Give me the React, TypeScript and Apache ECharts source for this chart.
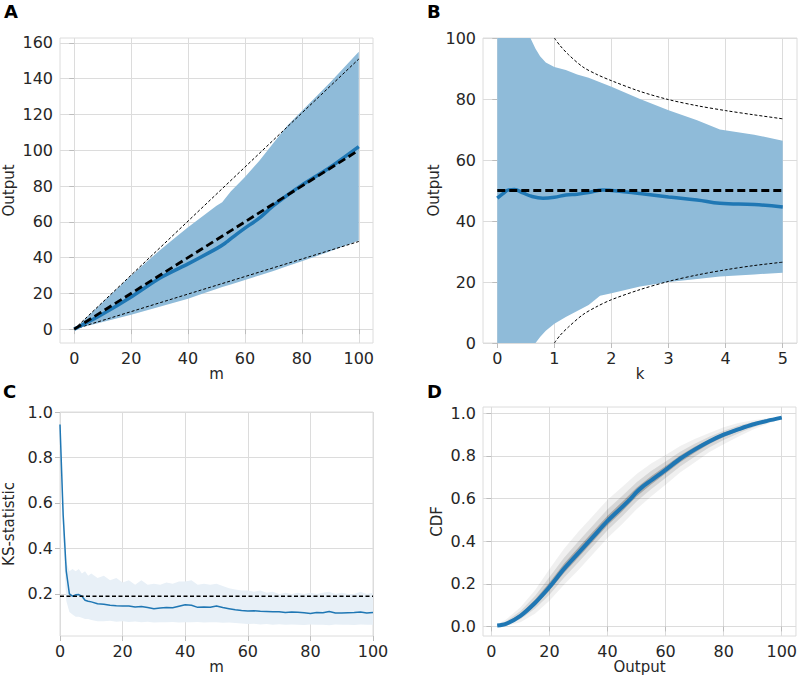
import React, { useEffect, useRef } from "react";
import * as echarts from "echarts";

// ---------- Panel A ----------
const A_REF_M = [0, 100];
const A_REF_UPPER = [0, 151];
const A_REF_LOWER = [0, 49];
const A_REF_MID = [0, 100];
const A_BAND_M = [0, 10, 20, 30, 35, 40, 45, 50, 52, 55, 60, 65, 70, 75, 80, 90, 100];
const A_BAND_HI = [0, 15, 30, 44, 50.5, 57, 63, 69, 71, 77, 85, 94, 104, 114, 122, 138, 155];
const A_BAND_LO = [0, 4, 8, 12.5, 14.7, 17, 19.8, 22.5, 23.5, 25, 27.5, 30, 32.5, 35.3, 38, 43.5, 49.5];
const A_MEAN_M = [0, 10, 20, 30, 40, 50, 53, 57, 60, 65, 70, 75, 80, 90, 100];
const A_MEAN = [0, 8.5, 18, 28.5, 36.5, 45, 48, 53, 56.5, 62, 69, 75, 80.5, 90.5, 102];

// ---------- Panel B ----------
const B_BAND_K = [0, 0.5, 0.58, 0.67, 0.75, 0.85, 1.0, 1.2, 1.4, 1.6, 1.8, 2.0, 2.5, 3.0, 3.5, 3.9, 4.5, 5.0];
const B_BAND_HI = [100, 100, 100, 96.5, 94, 92, 90.5, 89.5, 88, 87, 85.5, 84, 80, 76.3, 73, 70, 68.3, 66.3];
const B_BAND_LO = [0, 0, 0, 0, 2, 4, 6.3, 8.5, 10.5, 12.5, 15.5, 16.3, 18.5, 20, 21, 21.8, 22.5, 23];
const B_MEAN_K = [0, 0.1, 0.2, 0.3, 0.45, 0.6, 0.8, 1.0, 1.2, 1.4, 1.6, 1.85, 2.0, 2.5, 3.0, 3.5, 3.9, 4.5, 5.0];
const B_MEAN = [47.5, 49, 50.2, 50.3, 49.2, 48.1, 47.5, 47.8, 48.5, 48.8, 49.3, 50.2, 50, 49, 47.9, 46.9, 45.8, 45.4, 44.6];
const B_REF_K = [1, 1.1, 1.25, 1.5, 1.75, 2, 2.5, 3, 3.5, 4, 4.5, 5];
const B_REF_UPPER = [100, 97.5, 94.5, 90.5, 88, 86, 82.5, 79.8, 77.8, 76.2, 74.8, 73.5];
const B_REF_LOWER = [0, 2.5, 5.3, 9.3, 12, 14.2, 17.5, 20.2, 22.3, 24, 25.4, 26.5];
const B_TARGET_K = [0, 5];
const B_TARGET = [50, 50];

// ---------- Panel C ----------
const C_M = [0, 1, 2, 3, 4, 5, 6, 7, 8, 9, 10, 12, 14, 16, 18, 20, 22, 24, 26, 28, 30, 32, 34, 36, 38, 40, 42, 44, 46, 48, 50, 52, 54, 56, 58, 60, 62, 64, 66, 68, 70, 72, 74, 76, 78, 80, 82, 84, 86, 88, 90, 92, 94, 96, 98, 100];
const C_KS = [0.945, 0.55, 0.3, 0.2, 0.19, 0.196, 0.197, 0.19, 0.172, 0.168, 0.165, 0.157, 0.155, 0.15, 0.148, 0.147, 0.147, 0.143, 0.145, 0.14, 0.135, 0.138, 0.14, 0.139, 0.146, 0.152, 0.15, 0.141, 0.142, 0.141, 0.147, 0.14, 0.135, 0.13, 0.127, 0.125, 0.126, 0.124, 0.123, 0.122, 0.122, 0.118, 0.12, 0.119, 0.117, 0.114, 0.118, 0.117, 0.123, 0.116, 0.116, 0.117, 0.118, 0.121, 0.116, 0.118];
const C_HI = [0.95, 0.62, 0.34, 0.3, 0.31, 0.3, 0.31, 0.29, 0.3, 0.28, 0.29, 0.27, 0.28, 0.26, 0.27, 0.25, 0.26, 0.24, 0.26, 0.24, 0.245, 0.24, 0.25, 0.245, 0.255, 0.255, 0.26, 0.24, 0.245, 0.24, 0.245, 0.235, 0.225, 0.22, 0.215, 0.215, 0.21, 0.215, 0.205, 0.21, 0.2, 0.205, 0.2, 0.205, 0.2, 0.205, 0.2, 0.205, 0.21, 0.2, 0.205, 0.2, 0.2, 0.21, 0.2, 0.205];
const C_LO = [0.94, 0.45, 0.17, 0.12, 0.11, 0.1, 0.1, 0.095, 0.09, 0.09, 0.085, 0.08, 0.08, 0.082, 0.078, 0.08, 0.077, 0.079, 0.076, 0.078, 0.074, 0.076, 0.075, 0.077, 0.074, 0.076, 0.075, 0.077, 0.074, 0.076, 0.075, 0.073, 0.074, 0.072, 0.07, 0.068, 0.069, 0.066, 0.068, 0.065, 0.067, 0.064, 0.066, 0.065, 0.063, 0.066, 0.064, 0.065, 0.062, 0.066, 0.064, 0.065, 0.063, 0.066, 0.064, 0.065];
const C_THRESH_M = [0, 100];
const C_THRESH = [0.19, 0.19];

// ---------- Panel D ----------
const D_X = [2, 5, 10, 15, 20, 25, 30, 35, 40, 45, 50, 55, 60, 65, 70, 75, 80, 85, 90, 95, 100];
const D_OUTER_HI = [0.01, 0.032, 0.09, 0.17, 0.27, 0.365, 0.445, 0.52, 0.595, 0.655, 0.715, 0.765, 0.805, 0.847, 0.88, 0.908, 0.935, 0.955, 0.968, 0.977, 0.985];
const D_OUTER_LO = [0, 0.002, 0.02, 0.06, 0.12, 0.195, 0.265, 0.34, 0.415, 0.48, 0.55, 0.61, 0.665, 0.722, 0.77, 0.818, 0.855, 0.89, 0.923, 0.95, 0.975];
const D_MID_HI = [0.007, 0.023, 0.072, 0.143, 0.232, 0.322, 0.4, 0.475, 0.55, 0.612, 0.677, 0.729, 0.774, 0.82, 0.858, 0.89, 0.919, 0.942, 0.959, 0.972, 0.983];
const D_MID_LO = [0.002, 0.007, 0.034, 0.083, 0.149, 0.229, 0.301, 0.376, 0.451, 0.516, 0.586, 0.644, 0.697, 0.751, 0.797, 0.84, 0.875, 0.906, 0.934, 0.957, 0.977];
const D_IN_HI = [0.0055, 0.017, 0.06, 0.125, 0.206, 0.294, 0.37, 0.445, 0.52, 0.584, 0.651, 0.705, 0.753, 0.802, 0.843, 0.878, 0.909, 0.933, 0.953, 0.968, 0.981];
const D_IN_LO = [0.003, 0.0095, 0.0425, 0.0975, 0.169, 0.251, 0.325, 0.4, 0.475, 0.54, 0.61, 0.666, 0.718, 0.771, 0.815, 0.856, 0.889, 0.916, 0.942, 0.961, 0.979];
const D_CDF_X = [2, 5, 10, 15, 20, 25, 30, 35, 40, 45, 48, 50, 52, 55, 60, 65, 70, 75, 80, 85, 90, 95, 100];
const D_CDF = [0.004, 0.012, 0.05, 0.11, 0.185, 0.27, 0.345, 0.42, 0.495, 0.56, 0.6, 0.63, 0.655, 0.685, 0.735, 0.787, 0.83, 0.868, 0.9, 0.925, 0.948, 0.965, 0.98];

// ---------- tick labels ----------
const A_X_TICKS = [0, 20, 40, 60, 80, 100];
const A_Y_TICKS = [0, 20, 40, 60, 80, 100, 120, 140, 160];
const B_X_TICKS = [0, 1, 2, 3, 4, 5];
const B_Y_TICKS = [0, 20, 40, 60, 80, 100];
const C_X_TICKS = [0, 20, 40, 60, 80, 100];
const C_Y_TICKS = [0.2, 0.4, 0.6, 0.8, 1.0];
const D_X_TICKS = [0, 20, 40, 60, 80, 100];
const D_Y_TICKS = [0, 0.2, 0.4, 0.6, 0.8, 1.0];

const FONT = "DejaVu Sans";
const TEXT = "#262626";
const GRIDC = "#dcdcdc";
const TICKC = "#bdbdbd";
const BLUE = "#1f77b4";

const pairs = (xs: number[], ys: number[]) => xs.map((x, i) => [x, ys[i]]);

function band(idx: number, xs: number[], lo: number[], hi: number[], color: string, z: number) {
  return {
    type: "custom",
    xAxisIndex: idx,
    yAxisIndex: idx,
    z,
    silent: true,
    clip: true,
    data: [[xs[0], lo[0]]],
    renderItem: (_p: any, api: any) => {
      const pts: number[][] = [];
      for (let i = 0; i < xs.length; i++) pts.push(api.coord([xs[i], hi[i]]));
      for (let i = xs.length - 1; i >= 0; i--) pts.push(api.coord([xs[i], lo[i]]));
      return { type: "polygon", shape: { points: pts }, style: { fill: color }, silent: true };
    },
  };
}

function line(idx: number, xs: number[], ys: number[], color: string, width: number, type: any, z: number, smooth: any = false) {
  return {
    type: "line",
    xAxisIndex: idx,
    yAxisIndex: idx,
    z,
    data: pairs(xs, ys),
    showSymbol: false,
    symbol: "none",
    smooth,
    silent: true,
    lineStyle: { color, width, type, cap: "butt" },
  };
}

function xAxis(idx: number, min: number, max: number, ticks: number[], name: string, nameGap: number, fmt?: (v: number) => string, interval?: number) {
  return {
    type: "value",
    gridIndex: idx,
    min,
    max,
    interval,
    name,
    nameLocation: "middle",
    nameGap,
    nameTextStyle: { color: TEXT, fontFamily: FONT, fontSize: 15 },
    axisLine: { show: false },
    axisTick: { show: true, length: 5, inside: false, customValues: ticks, lineStyle: { color: TICKC, width: 1 } },
    axisLabel: { show: true, customValues: ticks, margin: 7, color: TEXT, fontFamily: FONT, fontSize: 16, formatter: fmt },
    splitLine: { show: true, lineStyle: { color: GRIDC, width: 1 } },
  };
}

function yAxis(idx: number, min: number, max: number, ticks: number[], name: string, nameGap: number, fmt?: (v: number) => string, splitNumber?: number, interval?: number) {
  return {
    type: "value",
    gridIndex: idx,
    min,
    max,
    splitNumber,
    interval,
    name,
    nameLocation: "middle",
    nameGap,
    nameTextStyle: { color: TEXT, fontFamily: FONT, fontSize: 15 },
    axisLine: { show: false },
    axisTick: { show: true, length: 5, inside: false, customValues: ticks, lineStyle: { color: TICKC, width: 1 } },
    axisLabel: { show: true, customValues: ticks, margin: 7, color: TEXT, fontFamily: FONT, fontSize: 16, formatter: fmt },
    splitLine: { show: true, lineStyle: { color: GRIDC, width: 1 } },
  };
}

const fmt1 = (v: number) => v.toFixed(1);

export default function App() {
  const ref = useRef<HTMLDivElement>(null);
  useEffect(() => {
    if (!ref.current) return;
    const chart = echarts.init(ref.current, undefined, { renderer: "svg" });
    const gridBase = { show: true, borderColor: GRIDC, borderWidth: 1, backgroundColor: "transparent", containLabel: false };
    const option: any = {
      animation: false,
      backgroundColor: "#ffffff",
      textStyle: { fontFamily: FONT },
      grid: [
        { ...gridBase, left: 59, top: 38, width: 314, height: 305 },
        { ...gridBase, left: 483, top: 38, width: 314, height: 305 },
        { ...gridBase, left: 59, top: 412, width: 314, height: 224 },
        { ...gridBase, left: 483, top: 407, width: 314, height: 229 },
      ],
      xAxis: [
        xAxis(0, -5, 105, A_X_TICKS, "m", 14),
        xAxis(1, -0.25, 5.25, B_X_TICKS, "k", 14),
        xAxis(2, 0, 100, C_X_TICKS, "m", 23, undefined, 20),
        xAxis(3, -2.9, 104.9, D_X_TICKS, "Output", 23),
      ],
      yAxis: [
        yAxis(0, -7.75, 162.75, A_Y_TICKS, "Output", 44, undefined, 8),
        yAxis(1, 0, 100, B_Y_TICKS, "Output", 33, undefined, undefined, 20),
        yAxis(2, 0.015, 1.0, C_Y_TICKS, "KS-statistic", 44, fmt1),
        yAxis(3, -0.045, 1.03, D_Y_TICKS, "CDF", 39, fmt1),
      ],
      series: [
        // A
        band(0, A_BAND_M, A_BAND_LO, A_BAND_HI, "#8fbbd9", 1),
        line(0, A_REF_M, A_REF_UPPER, "#000000", 1, [3, 2], 3),
        line(0, A_REF_M, A_REF_LOWER, "#000000", 1, [3, 2], 3),
        line(0, A_MEAN_M, A_MEAN, BLUE, 3.5, "solid", 4, 0.2),
        line(0, A_REF_M, A_REF_MID, "#000000", 2.8, [8, 4], 5),
        // B
        band(1, B_BAND_K, B_BAND_LO, B_BAND_HI, "#8fbbd9", 1),
        line(1, B_REF_K, B_REF_UPPER, "#000000", 1, [3, 2], 3, 0.3),
        line(1, B_REF_K, B_REF_LOWER, "#000000", 1, [3, 2], 3, 0.3),
        line(1, B_MEAN_K, B_MEAN, BLUE, 3.5, "solid", 4, 0.4),
        line(1, B_TARGET_K, B_TARGET, "#000000", 2.8, [8, 4], 5),
        // C
        band(2, C_M, C_LO, C_HI, "#e8f0f7", 1),
        line(2, C_M, C_KS, BLUE, 1.5, "solid", 4),
        line(2, C_THRESH_M, C_THRESH, "#000000", 1.5, [4, 2.5], 5),
        // D
        band(3, D_X, D_OUTER_LO, D_OUTER_HI, "rgba(0,0,0,0.06)", 1),
        band(3, D_X, D_MID_LO, D_MID_HI, "rgba(0,0,0,0.1)", 2),
        band(3, D_X, D_IN_LO, D_IN_HI, "rgba(0,0,0,0.22)", 3),
        line(3, D_CDF_X, D_CDF, BLUE, 4, "solid", 5, 0.3),
      ],
      graphic: [
        { type: "text", left: 4, top: 2, style: { text: "A", fontFamily: FONT, fontWeight: "bold", fontSize: 18, fill: "#000" } },
        { type: "text", left: 427, top: 2, style: { text: "B", fontFamily: FONT, fontWeight: "bold", fontSize: 18, fill: "#000" } },
        { type: "text", left: 3, top: 382, style: { text: "C", fontFamily: FONT, fontWeight: "bold", fontSize: 18, fill: "#000" } },
        { type: "text", left: 427, top: 382, style: { text: "D", fontFamily: FONT, fontWeight: "bold", fontSize: 18, fill: "#000" } },
      ],
    };
    chart.setOption(option);
    return () => chart.dispose();
  }, []);
  return <div ref={ref} style={{ position: "fixed", left: 0, top: 0, width: 800, height: 677 }} />;
}
